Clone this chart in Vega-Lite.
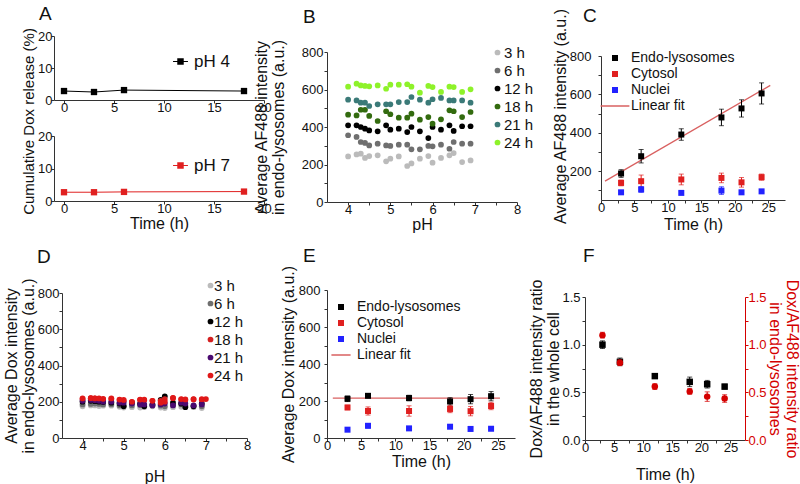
{
  "$schema": "https://vega.github.io/schema/vega-lite/v6.json",
  "autosize": {"type": "pad"},
  "padding": {"left": 2, "top": 5, "right": 0, "bottom": 0},
  "background": "white",
  "config": {
    "view": {"stroke": null},
    "font": "Liberation Sans",
    "axis": {"labelFont": "Liberation Sans", "titleFont": "Liberation Sans", "labelFontSize": 13, "titleFontSize": 16, "titleFontWeight": "normal", "labelColor": "#111", "titleColor": "#111", "domainColor": "#333", "tickColor": "#333", "tickSize": 3, "grid": false, "labelOverlap": false, "labelFlush": false, "titleLineHeight": 17},
    "axisX": {"labelPadding": -2, "titlePadding": 0},
    "legend": {"labelFont": "Liberation Sans", "labelColor": "#111", "padding": 0, "rowPadding": 2},
    "title": {"font": "Liberation Sans", "fontSize": 19, "fontWeight": "normal", "anchor": "start", "frame": "group", "baseline": "alphabetic", "color": "#111"}
  },
  "datasets": {
    "a": [
      {"t": 0, "v": 2.8, "s": "pH 4"}, {"t": 3, "v": 2.5, "s": "pH 4"}, {"t": 6, "v": 3.1, "s": "pH 4"}, {"t": 18, "v": 2.8, "s": "pH 4"},
      {"t": 0, "v": 2.7, "s": "pH 7"}, {"t": 3, "v": 2.7, "s": "pH 7"}, {"t": 6, "v": 2.8, "s": "pH 7"}, {"t": 18, "v": 2.9, "s": "pH 7"}
    ],
    "b": [
      {"pH":4.0,"v":243,"t":"3 h"},{"pH":4.2,"v":254,"t":"3 h"},{"pH":4.3,"v":258,"t":"3 h"},{"pH":4.4,"v":235,"t":"3 h"},{"pH":4.5,"v":245,"t":"3 h"},{"pH":4.7,"v":249,"t":"3 h"},{"pH":4.9,"v":217,"t":"3 h"},{"pH":5.0,"v":231,"t":"3 h"},{"pH":5.2,"v":243,"t":"3 h"},{"pH":5.4,"v":192,"t":"3 h"},{"pH":5.5,"v":206,"t":"3 h"},{"pH":5.7,"v":231,"t":"3 h"},{"pH":5.9,"v":245,"t":"3 h"},{"pH":6.0,"v":210,"t":"3 h"},{"pH":6.2,"v":235,"t":"3 h"},{"pH":6.4,"v":249,"t":"3 h"},{"pH":6.5,"v":261,"t":"3 h"},{"pH":6.7,"v":213,"t":"3 h"},{"pH":6.9,"v":222,"t":"3 h"},
      {"pH":4.0,"v":356,"t":"6 h"},{"pH":4.2,"v":347,"t":"6 h"},{"pH":4.3,"v":320,"t":"6 h"},{"pH":4.4,"v":315,"t":"6 h"},{"pH":4.5,"v":302,"t":"6 h"},{"pH":4.7,"v":311,"t":"6 h"},{"pH":4.9,"v":302,"t":"6 h"},{"pH":5.0,"v":299,"t":"6 h"},{"pH":5.2,"v":306,"t":"6 h"},{"pH":5.4,"v":306,"t":"6 h"},{"pH":5.5,"v":281,"t":"6 h"},{"pH":5.7,"v":281,"t":"6 h"},{"pH":5.9,"v":299,"t":"6 h"},{"pH":6.0,"v":297,"t":"6 h"},{"pH":6.2,"v":306,"t":"6 h"},{"pH":6.4,"v":284,"t":"6 h"},{"pH":6.5,"v":320,"t":"6 h"},{"pH":6.7,"v":311,"t":"6 h"},{"pH":6.9,"v":311,"t":"6 h"},
      {"pH":4.0,"v":409,"t":"12 h"},{"pH":4.2,"v":409,"t":"12 h"},{"pH":4.3,"v":400,"t":"12 h"},{"pH":4.4,"v":391,"t":"12 h"},{"pH":4.5,"v":382,"t":"12 h"},{"pH":4.7,"v":377,"t":"12 h"},{"pH":4.9,"v":409,"t":"12 h"},{"pH":5.0,"v":386,"t":"12 h"},{"pH":5.2,"v":391,"t":"12 h"},{"pH":5.4,"v":373,"t":"12 h"},{"pH":5.5,"v":400,"t":"12 h"},{"pH":5.7,"v":377,"t":"12 h"},{"pH":5.9,"v":341,"t":"12 h"},{"pH":6.0,"v":400,"t":"12 h"},{"pH":6.2,"v":386,"t":"12 h"},{"pH":6.4,"v":409,"t":"12 h"},{"pH":6.5,"v":379,"t":"12 h"},{"pH":6.7,"v":404,"t":"12 h"},{"pH":6.9,"v":404,"t":"12 h"},
      {"pH":4.0,"v":466,"t":"18 h"},{"pH":4.2,"v":462,"t":"18 h"},{"pH":4.3,"v":492,"t":"18 h"},{"pH":4.4,"v":492,"t":"18 h"},{"pH":4.5,"v":459,"t":"18 h"},{"pH":4.7,"v":432,"t":"18 h"},{"pH":4.9,"v":484,"t":"18 h"},{"pH":5.0,"v":468,"t":"18 h"},{"pH":5.2,"v":450,"t":"18 h"},{"pH":5.4,"v":450,"t":"18 h"},{"pH":5.5,"v":471,"t":"18 h"},{"pH":5.7,"v":439,"t":"18 h"},{"pH":5.9,"v":453,"t":"18 h"},{"pH":6.0,"v":418,"t":"18 h"},{"pH":6.2,"v":441,"t":"18 h"},{"pH":6.4,"v":489,"t":"18 h"},{"pH":6.5,"v":484,"t":"18 h"},{"pH":6.7,"v":453,"t":"18 h"},{"pH":6.9,"v":480,"t":"18 h"},
      {"pH":4.0,"v":546,"t":"21 h"},{"pH":4.2,"v":542,"t":"21 h"},{"pH":4.3,"v":530,"t":"21 h"},{"pH":4.4,"v":530,"t":"21 h"},{"pH":4.5,"v":512,"t":"21 h"},{"pH":4.7,"v":521,"t":"21 h"},{"pH":4.9,"v":521,"t":"21 h"},{"pH":5.0,"v":521,"t":"21 h"},{"pH":5.2,"v":533,"t":"21 h"},{"pH":5.4,"v":533,"t":"21 h"},{"pH":5.5,"v":560,"t":"21 h"},{"pH":5.7,"v":546,"t":"21 h"},{"pH":5.9,"v":530,"t":"21 h"},{"pH":6.0,"v":548,"t":"21 h"},{"pH":6.2,"v":555,"t":"21 h"},{"pH":6.4,"v":542,"t":"21 h"},{"pH":6.5,"v":542,"t":"21 h"},{"pH":6.7,"v":542,"t":"21 h"},{"pH":6.9,"v":530,"t":"21 h"},
      {"pH":4.0,"v":615,"t":"24 h"},{"pH":4.2,"v":631,"t":"24 h"},{"pH":4.3,"v":622,"t":"24 h"},{"pH":4.4,"v":619,"t":"24 h"},{"pH":4.5,"v":617,"t":"24 h"},{"pH":4.7,"v":622,"t":"24 h"},{"pH":4.9,"v":604,"t":"24 h"},{"pH":5.0,"v":626,"t":"24 h"},{"pH":5.2,"v":626,"t":"24 h"},{"pH":5.4,"v":628,"t":"24 h"},{"pH":5.5,"v":615,"t":"24 h"},{"pH":5.7,"v":583,"t":"24 h"},{"pH":5.9,"v":619,"t":"24 h"},{"pH":6.0,"v":613,"t":"24 h"},{"pH":6.2,"v":587,"t":"24 h"},{"pH":6.4,"v":615,"t":"24 h"},{"pH":6.5,"v":613,"t":"24 h"},{"pH":6.7,"v":587,"t":"24 h"},{"pH":6.9,"v":601,"t":"24 h"}
    ],
    "c": [
      {"t":3,"v":188,"e":20,"s":"Endo-lysosomes"},{"t":6,"v":278,"e":35,"s":"Endo-lysosomes"},{"t":12,"v":391,"e":30,"s":"Endo-lysosomes"},{"t":18,"v":480,"e":43,"s":"Endo-lysosomes"},{"t":21,"v":527,"e":45,"s":"Endo-lysosomes"},{"t":24,"v":605,"e":55,"s":"Endo-lysosomes"},
      {"t":3,"v":139,"e":15,"s":"Cytosol"},{"t":6,"v":148,"e":32,"s":"Cytosol"},{"t":12,"v":157,"e":28,"s":"Cytosol"},{"t":18,"v":165,"e":25,"s":"Cytosol"},{"t":21,"v":142,"e":25,"s":"Cytosol"},{"t":24,"v":169,"e":16,"s":"Cytosol"},
      {"t":3,"v":90,"e":8,"s":"Nuclei"},{"t":6,"v":105,"e":15,"s":"Nuclei"},{"t":12,"v":87,"e":6,"s":"Nuclei"},{"t":18,"v":99,"e":20,"s":"Nuclei"},{"t":21,"v":90,"e":6,"s":"Nuclei"},{"t":24,"v":95,"e":6,"s":"Nuclei"}
    ],
    "cfit": [{"t": 0.6, "v": 148}, {"t": 25.3, "v": 647}],
    "d": [
      {"pH":4.0,"v":175,"t":"3 h"},{"pH":4.2,"v":180,"t":"3 h"},{"pH":4.3,"v":180,"t":"3 h"},{"pH":4.4,"v":176,"t":"3 h"},{"pH":4.5,"v":178,"t":"3 h"},{"pH":4.7,"v":178,"t":"3 h"},{"pH":4.9,"v":172,"t":"3 h"},{"pH":5.0,"v":168,"t":"3 h"},{"pH":5.2,"v":170,"t":"3 h"},{"pH":5.4,"v":168,"t":"3 h"},{"pH":5.5,"v":170,"t":"3 h"},{"pH":5.7,"v":175,"t":"3 h"},{"pH":5.9,"v":168,"t":"3 h"},{"pH":6.0,"v":165,"t":"3 h"},{"pH":6.2,"v":170,"t":"3 h"},{"pH":6.4,"v":172,"t":"3 h"},{"pH":6.5,"v":175,"t":"3 h"},{"pH":6.7,"v":170,"t":"3 h"},{"pH":6.9,"v":165,"t":"3 h"},
      {"pH":4.0,"v":185,"t":"6 h"},{"pH":4.2,"v":188,"t":"6 h"},{"pH":4.3,"v":190,"t":"6 h"},{"pH":4.4,"v":188,"t":"6 h"},{"pH":4.5,"v":185,"t":"6 h"},{"pH":4.7,"v":185,"t":"6 h"},{"pH":4.9,"v":180,"t":"6 h"},{"pH":5.0,"v":178,"t":"6 h"},{"pH":5.2,"v":180,"t":"6 h"},{"pH":5.4,"v":182,"t":"6 h"},{"pH":5.5,"v":180,"t":"6 h"},{"pH":5.7,"v":180,"t":"6 h"},{"pH":5.9,"v":178,"t":"6 h"},{"pH":6.0,"v":175,"t":"6 h"},{"pH":6.2,"v":182,"t":"6 h"},{"pH":6.4,"v":185,"t":"6 h"},{"pH":6.5,"v":180,"t":"6 h"},{"pH":6.7,"v":178,"t":"6 h"},{"pH":6.9,"v":175,"t":"6 h"},
      {"pH":4.0,"v":200,"t":"12 h"},{"pH":4.2,"v":205,"t":"12 h"},{"pH":4.3,"v":203,"t":"12 h"},{"pH":4.4,"v":200,"t":"12 h"},{"pH":4.5,"v":198,"t":"12 h"},{"pH":4.7,"v":195,"t":"12 h"},{"pH":4.9,"v":190,"t":"12 h"},{"pH":5.0,"v":175,"t":"12 h"},{"pH":5.2,"v":195,"t":"12 h"},{"pH":5.4,"v":190,"t":"12 h"},{"pH":5.5,"v":175,"t":"12 h"},{"pH":5.7,"v":185,"t":"12 h"},{"pH":5.9,"v":210,"t":"12 h"},{"pH":6.0,"v":230,"t":"12 h"},{"pH":6.2,"v":195,"t":"12 h"},{"pH":6.4,"v":190,"t":"12 h"},{"pH":6.5,"v":170,"t":"12 h"},{"pH":6.7,"v":175,"t":"12 h"},{"pH":6.9,"v":190,"t":"12 h"},
      {"pH":4.0,"v":215,"t":"18 h"},{"pH":4.2,"v":220,"t":"18 h"},{"pH":4.3,"v":218,"t":"18 h"},{"pH":4.4,"v":215,"t":"18 h"},{"pH":4.5,"v":213,"t":"18 h"},{"pH":4.7,"v":215,"t":"18 h"},{"pH":4.9,"v":210,"t":"18 h"},{"pH":5.0,"v":205,"t":"18 h"},{"pH":5.2,"v":198,"t":"18 h"},{"pH":5.4,"v":210,"t":"18 h"},{"pH":5.5,"v":208,"t":"18 h"},{"pH":5.7,"v":205,"t":"18 h"},{"pH":5.9,"v":205,"t":"18 h"},{"pH":6.0,"v":215,"t":"18 h"},{"pH":6.2,"v":220,"t":"18 h"},{"pH":6.4,"v":212,"t":"18 h"},{"pH":6.5,"v":210,"t":"18 h"},{"pH":6.7,"v":215,"t":"18 h"},{"pH":6.9,"v":210,"t":"18 h"},
      {"pH":4.0,"v":205,"t":"21 h"},{"pH":4.2,"v":210,"t":"21 h"},{"pH":4.3,"v":208,"t":"21 h"},{"pH":4.4,"v":205,"t":"21 h"},{"pH":4.5,"v":200,"t":"21 h"},{"pH":4.7,"v":200,"t":"21 h"},{"pH":4.9,"v":195,"t":"21 h"},{"pH":5.0,"v":195,"t":"21 h"},{"pH":5.2,"v":190,"t":"21 h"},{"pH":5.4,"v":185,"t":"21 h"},{"pH":5.5,"v":185,"t":"21 h"},{"pH":5.7,"v":180,"t":"21 h"},{"pH":5.9,"v":185,"t":"21 h"},{"pH":6.0,"v":190,"t":"21 h"},{"pH":6.2,"v":180,"t":"21 h"},{"pH":6.4,"v":195,"t":"21 h"},{"pH":6.5,"v":190,"t":"21 h"},{"pH":6.7,"v":180,"t":"21 h"},{"pH":6.9,"v":185,"t":"21 h"},
      {"pH":4.0,"v":218,"t":"24 h"},{"pH":4.2,"v":220,"t":"24 h"},{"pH":4.3,"v":218,"t":"24 h"},{"pH":4.4,"v":218,"t":"24 h"},{"pH":4.5,"v":216,"t":"24 h"},{"pH":4.7,"v":218,"t":"24 h"},{"pH":4.9,"v":212,"t":"24 h"},{"pH":5.0,"v":210,"t":"24 h"},{"pH":5.2,"v":200,"t":"24 h"},{"pH":5.4,"v":212,"t":"24 h"},{"pH":5.5,"v":212,"t":"24 h"},{"pH":5.7,"v":205,"t":"24 h"},{"pH":5.9,"v":195,"t":"24 h"},{"pH":6.0,"v":200,"t":"24 h"},{"pH":6.2,"v":222,"t":"24 h"},{"pH":6.4,"v":215,"t":"24 h"},{"pH":6.5,"v":213,"t":"24 h"},{"pH":6.7,"v":213,"t":"24 h"},{"pH":6.9,"v":215,"t":"24 h"},{"pH":7.0,"v":215,"t":"24 h"}
    ],
    "e": [
      {"t":3,"v":212,"e":15,"s":"Endo-lysosomes"},{"t":6,"v":228,"e":10,"s":"Endo-lysosomes"},{"t":12,"v":216,"e":15,"s":"Endo-lysosomes"},{"t":18,"v":198,"e":20,"s":"Endo-lysosomes"},{"t":21,"v":210,"e":25,"s":"Endo-lysosomes"},{"t":24,"v":226,"e":25,"s":"Endo-lysosomes"},
      {"t":3,"v":165,"e":12,"s":"Cytosol"},{"t":6,"v":146,"e":22,"s":"Cytosol"},{"t":12,"v":146,"e":28,"s":"Cytosol"},{"t":18,"v":157,"e":20,"s":"Cytosol"},{"t":21,"v":145,"e":25,"s":"Cytosol"},{"t":24,"v":173,"e":20,"s":"Cytosol"},
      {"t":3,"v":45,"e":6,"s":"Nuclei"},{"t":6,"v":66,"e":12,"s":"Nuclei"},{"t":12,"v":52,"e":6,"s":"Nuclei"},{"t":18,"v":61,"e":8,"s":"Nuclei"},{"t":21,"v":49,"e":10,"s":"Nuclei"},{"t":24,"v":50,"e":6,"s":"Nuclei"}
    ],
    "efit": [{"t": 0.85, "v": 216}, {"t": 25.3, "v": 216}],
    "f": [
      {"t":3,"v":1.0,"e":0.04,"s":"whole"},{"t":6,"v":0.82,"e":0.04,"s":"whole"},{"t":12,"v":0.67,"e":0.015,"s":"whole"},{"t":18,"v":0.61,"e":0.05,"s":"whole"},{"t":21,"v":0.585,"e":0.04,"s":"whole"},{"t":24,"v":0.56,"e":0.025,"s":"whole"},
      {"t":3,"v":1.1,"e":0.03,"s":"endo"},{"t":6,"v":0.81,"e":0.03,"s":"endo"},{"t":12,"v":0.56,"e":0.03,"s":"endo"},{"t":18,"v":0.51,"e":0.03,"s":"endo"},{"t":21,"v":0.455,"e":0.05,"s":"endo"},{"t":24,"v":0.435,"e":0.04,"s":"endo"}
    ]
  },
  "spacing": 15,
  "resolve": {"scale": {"color": "independent", "shape": "independent"}, "legend": {"color": "independent", "shape": "independent"}},
  "vconcat": [
    {
      "spacing": 0,
      "resolve": {"scale": {"color": "independent", "shape": "independent"}, "legend": {"color": "independent", "shape": "independent"}},
      "hconcat": [
        {"width": 19, "height": 1, "data": {"values": []}, "mark": "point", "encoding": {}},
        {
          "spacing": -19,
          "resolve": {"scale": {"color": "independent", "shape": "independent"}, "legend": {"color": "independent", "shape": "independent"}},
          "hconcat": [
            {
              "bounds": "flush",
              "spacing": 36,
              "resolve": {"scale": {"color": "independent", "shape": "independent"}, "legend": {"color": "independent", "shape": "independent"}},
              "vconcat": [
                {
                  "title": {"text": "A", "dx": -15, "offset": 6},
                  "width": 210, "height": 64,
                  "data": {"name": "a"},
                  "transform": [{"filter": "datum.s === 'pH 4'"}],
                  "encoding": {
                    "x": {"field": "t", "type": "quantitative", "scale": {"domain": [-1, 20], "nice": false, "zero": false}, "axis": {"values": [0, 5, 10, 15, 20], "title": null}},
                    "y": {"field": "v", "type": "quantitative", "scale": {"domain": [0, 20], "nice": false}, "axis": {"values": [0, 10, 20], "title": null, "labelPadding": -1}}
                  },
                  "layer": [
                    {"mark": {"type": "line", "color": "#000", "strokeWidth": 1}, "encoding": {}},
                    {"mark": {"type": "point", "filled": true, "opacity": 1, "size": 40, "shape": "square"},
                     "encoding": {"color": {"field": "s", "type": "nominal", "scale": {"domain": ["pH 4"], "range": ["#000000"]},
                       "legend": {"orient": "none", "legendX": 118, "legendY": 17, "title": null, "labelFontSize": 17, "symbolSize": 42, "labelOffset": 5, "symbolType": "M-2.3,-0.15H2.3V0.15H-2.3Z M-1,-1H1V1H-1Z"}}}}
                  ]
                },
                {
                  "width": 210, "height": 65,
                  "data": {"name": "a"},
                  "transform": [{"filter": "datum.s === 'pH 7'"}],
                  "encoding": {
                    "x": {"field": "t", "type": "quantitative", "scale": {"domain": [-1, 20], "nice": false, "zero": false}, "axis": {"values": [0, 5, 10, 15, 20], "title": "Time (h)"}},
                    "y": {"field": "v", "type": "quantitative", "scale": {"domain": [0, 20], "nice": false}, "axis": {"values": [0, 10, 20], "title": "Cumulative Dox release (%)", "titleY": -15, "titleFontSize": 15, "labelPadding": -1, "titlePadding": 1}}
                  },
                  "layer": [
                    {"mark": {"type": "line", "color": "#e02020", "strokeWidth": 1}, "encoding": {}},
                    {"mark": {"type": "point", "filled": true, "opacity": 1, "size": 40, "shape": "square"},
                     "encoding": {"color": {"field": "s", "type": "nominal", "scale": {"domain": ["pH 7"], "range": ["#e02020"]},
                       "legend": {"orient": "none", "legendX": 118, "legendY": 21, "title": null, "labelFontSize": 17, "symbolSize": 42, "labelOffset": 5, "symbolType": "M-2.3,-0.15H2.3V0.15H-2.3Z M-1,-1H1V1H-1Z"}}}}
                  ]
                }
              ]
            },
            {
              "spacing": 18,
              "resolve": {"scale": {"color": "independent", "shape": "independent"}, "legend": {"color": "independent", "shape": "independent"}},
              "hconcat": [
                {
                  "bounds": "flush",
                  "spacing": 0,
                  "resolve": {"scale": {"color": "independent", "shape": "independent"}, "legend": {"color": "independent", "shape": "independent"}},
                  "vconcat": [
                    {"width": 190, "height": 16, "data": {"values": []}, "mark": "point", "encoding": {}},
                    {
                      "title": {"text": "B", "dx": -24, "offset": 12},
                      "width": 190, "height": 150,
                      "data": {"name": "b"},
                      "mark": {"type": "circle", "size": 33, "opacity": 1},
                      "encoding": {
                        "x": {"field": "pH", "type": "quantitative", "scale": {"domain": [3.5, 8], "nice": false, "zero": false}, "axis": {"values": [4, 4.5, 5, 5.5, 6, 6.5, 7, 7.5, 8], "labelExpr": "datum.value % 1 === 0 ? format(datum.value, 'd') : ''", "title": "pH"}},
                        "y": {"field": "v", "type": "quantitative", "scale": {"domain": [0, 800], "nice": false}, "axis": {"values": [0, 100, 200, 300, 400, 500, 600, 700, 800], "labelExpr": "datum.value % 200 === 0 ? format(datum.value, 'd') : ''", "title": ["Average AF488 intensity", "in endo-lysosomes (a.u.)"], "labelPadding": 1, "titlePadding": 15}},
                        "color": {"field": "t", "type": "nominal", "scale": {"domain": ["3 h", "6 h", "12 h", "18 h", "21 h", "24 h"], "range": ["#bbbbbb", "#6f6f6f", "#000000", "#336b0f", "#3b7a78", "#8ef22a"]},
                          "legend": {"orient": "none", "legendX": 163, "legendY": -7, "title": null, "labelFontSize": 15, "symbolSize": 33, "symbolType": "circle", "labelOffset": -1}}
                      }
                    }
                  ]
                },
                {
                  "bounds": "flush",
                  "spacing": 0,
                  "resolve": {"scale": {"color": "independent", "shape": "independent"}, "legend": {"color": "independent", "shape": "independent"}},
                  "vconcat": [
                    {"width": 184, "height": 20, "data": {"values": []}, "mark": "point", "encoding": {}},
                    {
                      "title": {"text": "C", "dx": -18, "offset": -18},
                      "width": 184, "height": 144,
                      "data": {"name": "c"},
                      "encoding": {
                        "x": {"field": "t", "type": "quantitative", "scale": {"domain": [0, 27.5], "nice": false, "zero": false}, "axis": {"values": [0, 2.5, 5, 7.5, 10, 12.5, 15, 17.5, 20, 22.5, 25], "labelExpr": "datum.value % 5 === 0 ? format(datum.value, 'd') : ''", "title": "Time (h)", "titlePadding": 2}},
                        "y": {"field": "v", "type": "quantitative", "scale": {"domain": [50, 800], "nice": false, "zero": false}, "axis": {"values": [100, 200, 300, 400, 500, 600, 700, 800], "labelExpr": "datum.value % 200 === 0 ? format(datum.value, 'd') : ''", "title": "Average AF488 intensity (a.u.)", "labelPadding": 7, "titlePadding": 1, "titleY": 60}}
                      },
                      "layer": [
                        {"data": {"name": "cfit"}, "mark": {"type": "line", "color": "#d96060", "strokeWidth": 1.3}, "encoding": {}},
                        {"transform": [{"filter": "datum.s === 'Endo-lysosomes'"}], "mark": {"type": "errorbar", "ticks": true, "color": "#000000"}, "encoding": {"yError": {"field": "e"}}},
                        {"transform": [{"filter": "datum.s === 'Cytosol'"}], "mark": {"type": "errorbar", "ticks": true, "color": "#e02020"}, "encoding": {"yError": {"field": "e"}}},
                        {"transform": [{"filter": "datum.s === 'Nuclei'"}], "mark": {"type": "errorbar", "ticks": true, "color": "#2222ff"}, "encoding": {"yError": {"field": "e"}}},
                        {"mark": {"type": "point", "filled": true, "opacity": 1, "size": 36},
                         "encoding": {
                           "color": {"field": "s", "type": "nominal", "scale": {"domain": ["Endo-lysosomes", "Cytosol", "Nuclei", "Linear fit"], "range": ["#000000", "#e02020", "#2222ff", "#d96060"]},
                             "legend": {"orient": "none", "legendX": 7, "legendY": -5, "title": null, "labelFontSize": 14, "symbolSize": 36, "labelOffset": 9}},
                           "shape": {"field": "s", "type": "nominal", "scale": {"domain": ["Endo-lysosomes", "Cytosol", "Nuclei", "Linear fit"], "range": ["square", "square", "square", "M-4.8,-0.25H4.8V0.25H-4.8Z"]},
                             "legend": {"orient": "none", "legendX": 7, "legendY": -5, "title": null, "labelFontSize": 14, "symbolSize": 36, "labelOffset": 9}}
                         }}
                      ]
                    }
                  ]
                }
              ]
            }
          ]
        }
      ]
    },
    {
      "spacing": 0,
      "resolve": {"scale": {"color": "independent", "shape": "independent"}, "legend": {"color": "independent", "shape": "independent"}},
      "hconcat": [
        {"width": 1, "height": 1, "data": {"values": []}, "mark": "point", "encoding": {}},
        {
          "spacing": 29,
          "resolve": {"scale": {"color": "independent", "shape": "independent"}, "legend": {"color": "independent", "shape": "independent"}},
          "hconcat": [
            {
              "bounds": "flush",
              "spacing": 0,
              "resolve": {"scale": {"color": "independent", "shape": "independent"}, "legend": {"color": "independent", "shape": "independent"}},
              "vconcat": [
                {"width": 185, "height": 3, "data": {"values": []}, "mark": "point", "encoding": {}},
                {
                  "title": {"text": "D", "dx": -25, "offset": 11},
                  "width": 185, "height": 145,
                  "data": {"name": "d"},
                  "mark": {"type": "circle", "size": 33, "opacity": 1},
                  "encoding": {
                    "x": {"field": "pH", "type": "quantitative", "scale": {"domain": [3.5, 8], "nice": false, "zero": false}, "axis": {"values": [4, 4.5, 5, 5.5, 6, 6.5, 7, 7.5, 8], "labelExpr": "datum.value % 1 === 0 ? format(datum.value, 'd') : ''", "title": "pH", "titlePadding": 16}},
                    "y": {"field": "v", "type": "quantitative", "scale": {"domain": [0, 800], "nice": false}, "axis": {"values": [0, 100, 200, 300, 400, 500, 600, 700, 800], "labelExpr": "datum.value % 200 === 0 ? format(datum.value, 'd') : ''", "title": ["Average Dox intensity", "in endo-lysosomes (a.u.)"], "labelPadding": 0, "titlePadding": 1}},
                    "color": {"field": "t", "type": "nominal", "scale": {"domain": ["3 h", "6 h", "12 h", "18 h", "21 h", "24 h"], "range": ["#bbbbbb", "#6f6f6f", "#000000", "#d42020", "#4a0a70", "#e01818"]},
                      "legend": {"orient": "none", "legendX": 141, "legendY": -15, "title": null, "labelFontSize": 15, "symbolSize": 33, "symbolType": "circle", "labelOffset": -4}}
                  }
                }
              ]
            },
            {
              "spacing": 13,
              "resolve": {"scale": {"color": "independent", "shape": "independent"}, "legend": {"color": "independent", "shape": "independent"}},
              "hconcat": [
                {
                  "title": {"text": "E", "dx": -24, "offset": -1},
                  "width": 188, "height": 148,
                  "data": {"name": "e"},
                  "encoding": {
                    "x": {"field": "t", "type": "quantitative", "scale": {"domain": [0, 27.5], "nice": false, "zero": false}, "axis": {"values": [0, 2.5, 5, 7.5, 10, 12.5, 15, 17.5, 20, 22.5, 25], "labelExpr": "datum.value % 5 === 0 ? format(datum.value, 'd') : ''", "title": "Time (h)", "titlePadding": 1}},
                    "y": {"field": "v", "type": "quantitative", "scale": {"domain": [0, 800], "nice": false, "zero": false}, "axis": {"values": [0, 100, 200, 300, 400, 500, 600, 700, 800], "labelExpr": "datum.value % 200 === 0 ? format(datum.value, 'd') : ''", "title": "Average Dox intensity (a.u.)", "labelPadding": 4, "titlePadding": 2}}
                  },
                  "layer": [
                    {"data": {"name": "efit"}, "mark": {"type": "line", "color": "#d96060", "strokeWidth": 1.3}, "encoding": {}},
                    {"transform": [{"filter": "datum.s === 'Endo-lysosomes'"}], "mark": {"type": "errorbar", "ticks": true, "color": "#000000"}, "encoding": {"yError": {"field": "e"}}},
                    {"transform": [{"filter": "datum.s === 'Cytosol'"}], "mark": {"type": "errorbar", "ticks": true, "color": "#e02020"}, "encoding": {"yError": {"field": "e"}}},
                    {"transform": [{"filter": "datum.s === 'Nuclei'"}], "mark": {"type": "errorbar", "ticks": true, "color": "#2222ff"}, "encoding": {"yError": {"field": "e"}}},
                    {"mark": {"type": "point", "filled": true, "opacity": 1, "size": 36},
                     "encoding": {
                       "color": {"field": "s", "type": "nominal", "scale": {"domain": ["Endo-lysosomes", "Cytosol", "Nuclei", "Linear fit"], "range": ["#000000", "#e02020", "#2222ff", "#d96060"]},
                         "legend": {"orient": "none", "legendX": 7, "legendY": 10, "title": null, "labelFontSize": 14, "symbolSize": 36, "labelOffset": 9}},
                       "shape": {"field": "s", "type": "nominal", "scale": {"domain": ["Endo-lysosomes", "Cytosol", "Nuclei", "Linear fit"], "range": ["square", "square", "square", "M-3.2,-0.25H3.2V0.25H-3.2Z"]},
                         "legend": {"orient": "none", "legendX": 7, "legendY": 10, "title": null, "labelFontSize": 14, "symbolSize": 36, "labelOffset": 9}}
                     }}
                  ]
                },
                {
                  "bounds": "flush",
                  "spacing": 0,
                  "resolve": {"scale": {"color": "independent", "shape": "independent"}, "legend": {"color": "independent", "shape": "independent"}},
                  "vconcat": [
                    {"width": 160, "height": 7, "data": {"values": []}, "mark": "point", "encoding": {}},
                    {
                      "title": {"text": "F", "dx": -2, "offset": 13},
                      "width": 160, "height": 143,
                      "data": {"name": "f"},
                      "encoding": {
                        "x": {"field": "t", "type": "quantitative", "scale": {"domain": [0, 27.5], "nice": false, "zero": false}, "axis": {"values": [0, 2.5, 5, 7.5, 10, 12.5, 15, 17.5, 20, 22.5, 25], "labelExpr": "datum.value % 5 === 0 ? format(datum.value, 'd') : ''", "title": "Time (h)", "titlePadding": 12}}
                      },
                      "layer": [
                        {
                          "transform": [{"filter": "datum.s === 'whole'"}],
                          "encoding": {"y": {"field": "v", "type": "quantitative", "scale": {"domain": [0, 1.5], "nice": false}, "axis": {"orient": "left", "values": [0, 0.25, 0.5, 0.75, 1, 1.25, 1.5], "labelExpr": "datum.value % 0.5 === 0 ? format(datum.value, '.1f') : ''", "title": ["Dox/AF488 intensity ratio", "in the whole cell"], "labelPadding": 2, "titlePadding": 0}}},
                          "layer": [
                            {"mark": {"type": "errorbar", "ticks": true, "color": "#000000"}, "encoding": {"yError": {"field": "e"}}},
                            {"mark": {"type": "point", "filled": true, "opacity": 1, "size": 42, "shape": "square", "color": "#000000"}, "encoding": {}}
                          ]
                        },
                        {
                          "transform": [{"filter": "datum.s === 'endo'"}],
                          "encoding": {"y": {"field": "v", "type": "quantitative", "scale": {"domain": [0, 1.5], "nice": false}, "axis": {"orient": "right", "values": [0, 0.25, 0.5, 0.75, 1, 1.25, 1.5], "labelExpr": "datum.value % 0.5 === 0 ? format(datum.value, '.1f') : ''", "title": ["Dox/AF488 intensity ratio", "in endo-lysosomes"], "labelPadding": 0, "titlePadding": 0, "domainColor": "#d40000", "tickColor": "#d40000", "labelColor": "#d40000", "titleColor": "#d40000"}}},
                          "layer": [
                            {"mark": {"type": "errorbar", "ticks": true, "color": "#d40000"}, "encoding": {"yError": {"field": "e"}}},
                            {"mark": {"type": "point", "filled": true, "opacity": 1, "size": 42, "shape": "circle", "color": "#d40000"}, "encoding": {}}
                          ]
                        }
                      ],
                      "resolve": {"scale": {"y": "independent"}, "axis": {"y": "independent"}}
                    }
                  ]
                }
              ]
            }
          ]
        }
      ]
    }
  ]
}
